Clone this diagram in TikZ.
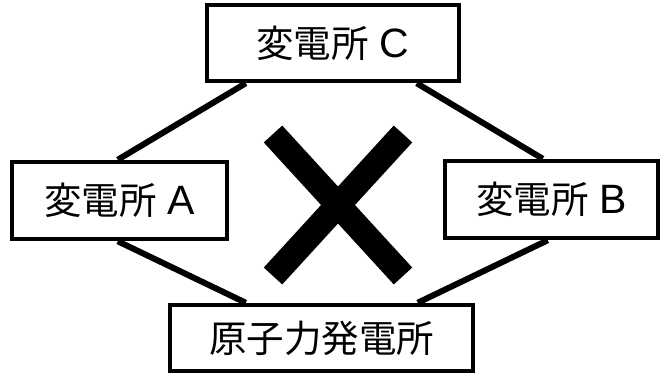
\documentclass[tikz,border=0pt]{standalone}
\usepackage{fontspec}
\newfontfamily\jpfont{Noto Sans CJK JP}
\newfontfamily\latfont{Liberation Sans}
\usetikzlibrary{backgrounds}
\newcommand{\lt}[1]{{\latfont\fontsize{41}{41}\selectfont #1}}
\tikzset{
  x=1pt, y=-1pt,
  station/.style={draw=black, line width=4.5pt, fill=white, rectangle, inner sep=0pt,
    font=\jpfont\fontsize{37.5}{40}\selectfont, line join=miter},
  link/.style={line width=6pt, black},
  cross/.style={line width=25pt, black, line cap=butt}
}
\begin{document}
\begin{tikzpicture}
\useasboundingbox (0,0) rectangle (664,382);
\node[station, minimum width=252pt, minimum height=76pt] (C) at (333,43) {変電所\hspace{11pt}\lt{C}};
\node[station, minimum width=215pt, minimum height=77pt] (A) at (119.5,200.5) {変電所\hspace{11pt}\lt{A}};
\node[station, minimum width=213pt, minimum height=77pt] (B) at (551.5,199.5) {変電所\hspace{11pt}\lt{B}};
\node[station, minimum width=303pt, minimum height=66pt] (D) at (321.5,338) {原子力発電所};
\begin{scope}[on background layer]
\draw[link] ([xshift=41pt]C.south west) -- ([xshift=108pt]A.north west);
\draw[link] ([xshift=212pt]C.south west) -- ([xshift=100pt]B.north west);
\draw[link] ([xshift=108pt]A.south west) -- ([xshift=78pt]D.north west);
\draw[link] ([xshift=105pt]B.south west) -- ([xshift=250pt]D.north west);
\end{scope}
\draw[cross] (273,134) -- (403,276);
\draw[cross] (273,276) -- (403,134);
\end{tikzpicture}
\end{document}
